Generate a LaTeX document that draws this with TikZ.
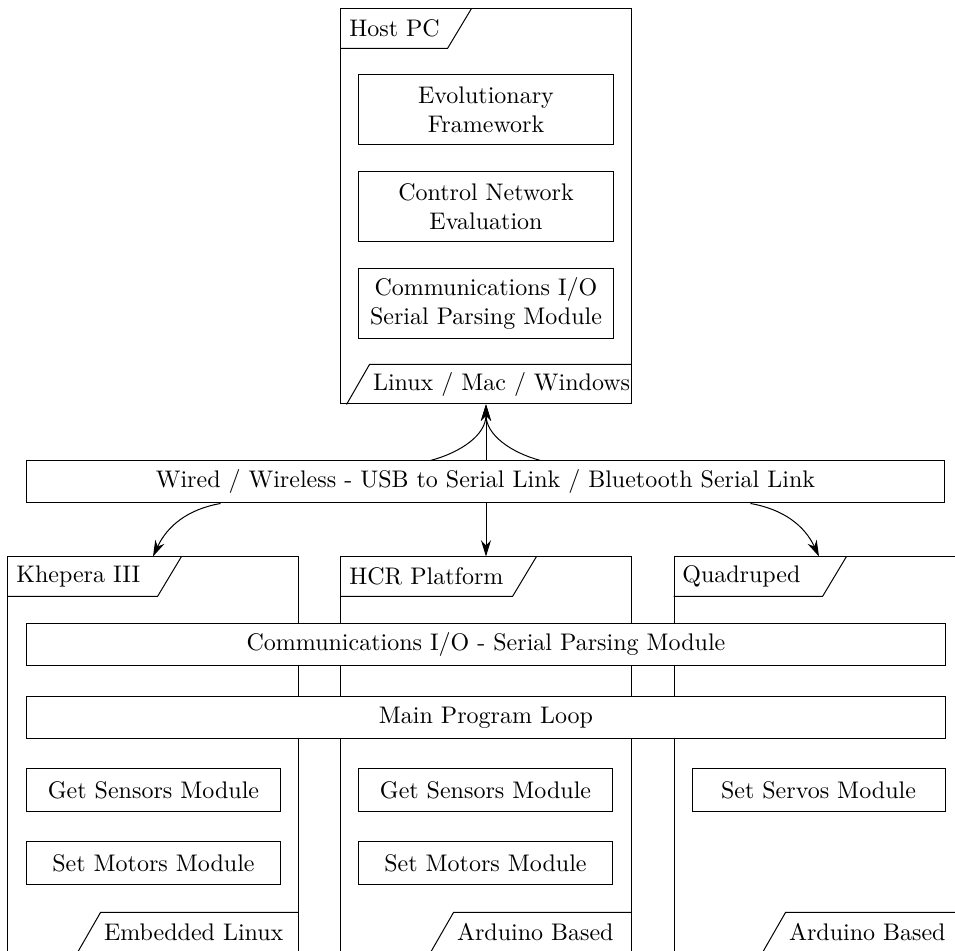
\documentclass[tikz,border=0pt]{standalone}
\usetikzlibrary{arrows.meta}
\begin{document}
\begin{tikzpicture}[x=0.4pt,y=0.4pt,>={Stealth[length=6.5pt,width=4pt]},
  font=\fontsize{9.6pt}{11.5pt}\selectfont,
  frame/.style={draw, minimum width=116pt, minimum height=158pt},
  module/.style={draw, align=center, minimum width=101.6pt, minimum height=28pt},
  bar/.style={draw, fill=white, minimum width=367.2pt, minimum height=16.8pt},
  task/.style={draw, minimum width=101.2pt, minimum height=17.2pt}]
  \useasboundingbox (0,0) rectangle (955,-951);
  \clip (0,0) rectangle (955,-951);

  % host side
  \node[frame] (PC) at (486,-206.5) {};
  \node[module] (EF) at (486,-109.5) {Evolutionary\\Framework};
  \node[module] (CN) at (486,-206.5) {Control Network\\Evaluation};
  \node[module] (IO) at (486,-303.5) {Communications I/O\\Serial Parsing Module};

  % robot side
  \node[frame] (K3) at (153,-754.5) {};
  \node[frame] (HCR) at (486,-754.5) {};
  \node[frame] (Q) at (819,-754.5) {};

  % name tabs (top left) and platform tabs (bottom right)
  \foreach \f/\w/\t in {PC/131/Host PC, K3/174/Khepera III, HCR/196/HCR Platform, Q/173/Quadruped} {
    \draw ([yshift=-16pt]\f.north west) -- ++(\w-24,0) -- ++(24,40);
    \node[anchor=west] (\f-name) at ([yshift=-8pt]\f.north west) {\t};
  }
  \foreach \f/\w/\t in {PC/262/{Linux / Mac / Windows}, K3/198/Embedded Linux, HCR/178/Arduino Based, Q/179/Arduino Based} {
    \draw ([yshift=16pt]\f.south east) -- ++(-\w,0) -- ++(-23,-40);
    \node[anchor=west, inner sep=1.2pt] (\f-os) at ([xshift=-\w*0.4pt, yshift=8pt]\f.south east) {\t};
  }

  % shared layers
  \node[bar] (L) at (485.5,-482) {Wired / Wireless - USB to Serial Link / Bluetooth Serial Link};
  \node[bar] (SP) at (486,-645) {Communications I/O - Serial Parsing Module};
  \node[bar] (ML) at (486,-718) {Main Program Loop};

  \node[task] (GS1) at (153.5,-790.5) {Get Sensors Module};
  \node[task] (SM1) at (153.5,-863) {Set Motors Module};
  \node[task] (GS2) at (485.5,-790.5) {Get Sensors Module};
  \node[task] (SM2) at (485.5,-863) {Set Motors Module};
  \node[task] (SS) at (818.5,-790.5) {Set Servos Module};

  \draw[->] (PC.south |- L.north) -- (PC.south);
  \draw[->] ([xshift=-22pt]L.north) to[out=15,in=-90] (PC.south);
  \draw[->] ([xshift=22pt]L.north) to[out=165,in=-90] (PC.south);
  \draw[->] ([xshift=-106pt]L.south) to[out=190,in=65] (K3.north);
  \draw[->] (HCR.north |- L.south) -- (HCR.north);
  \draw[->] ([xshift=106pt]L.south) to[out=-10,in=115] (Q.north);
\end{tikzpicture}
\end{document}
